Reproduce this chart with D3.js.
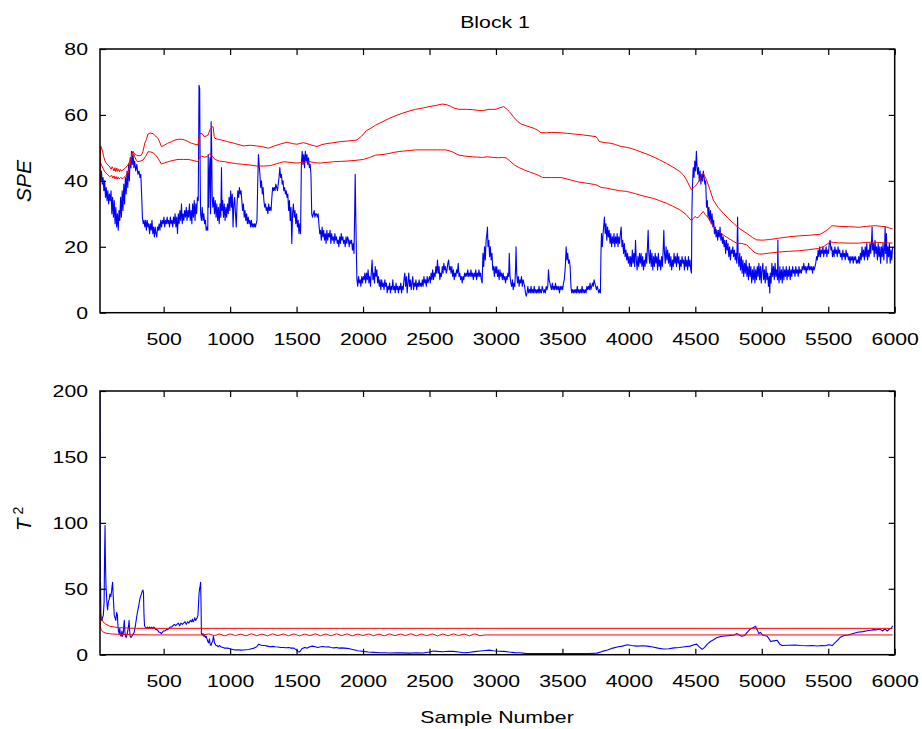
<!DOCTYPE html>
<html>
<head>
<meta charset="utf-8">
<script src="https://cdn.jsdelivr.net/npm/d3@7"></script>
<style>
body { margin: 0; background: #fff; }
text { font-family: "Liberation Sans", Arial, sans-serif; fill: #000; }
</style>
</head>
<body>
<div id="chart"></div>
<script>
// tick values
var xTicks = [500, 1000, 1500, 2000, 2500, 3000, 3500, 4000, 4500, 5000, 5500, 6000];
var speTicks = [0, 20, 40, 60, 80];
var t2Ticks = [0, 50, 100, 150, 200];

// SPE statistic (sample, value)
var speStat = [[21,42],[26,40],[32,43],[38,39],[44,41],[50,37],[56,40],[62,35],[68,38],[74,34],[80,37],[86,33],[92,36],[98,34],[104,37],[110,30],[116,35],[122,29],[128,34],[134,27],[140,32],[146,26],[152,30],[158,25],[164,31],[170,28],[176,35],[182,29],[188,37],[194,31],[200,39],[206,33],[212,41],[218,36],[224,43],[230,38],[236,45],[242,40],[248,47],[254,44],[258,49],[264,45],[270,48],[276,44],[282,46],[290,43],[298,45],[306,42],[314,43],[322,41],[328,42],[334,36],[340,29],[346,27],[352,28],[358,26],[364,28],[370,25],[376,28],[382,26],[388,27],[394,24],[400,27],[406,25],[412,28],[418,24],[424,26],[430,23],[436,26],[442,24],[448,23],[454,26],[460,25],[466,27],[472,25],[478,28],[484,26],[490,28],[496,27],[502,29],[508,26],[514,28],[520,27],[526,29],[532,27],[538,28],[544,26],[550,29],[556,27],[562,28],[568,26],[574,29],[580,27],[586,30],[592,26],[598,29],[604,24],[610,30],[616,27],[622,31],[628,28],[634,33],[640,27],[646,30],[652,28],[658,31],[664,29],[670,32],[676,28],[682,31],[688,29],[694,33],[700,28],[706,31],[712,27],[718,33],[724,29],[730,34],[736,28],[742,33],[748,30],[754,35],[760,34],[763,50],[766,69],[771,68],[775,40],[778,30],[784,28],[790,32],[796,28],[802,30],[808,27],[814,28],[820,25],[826,26],[832,25],[835,48],[839,32],[845,44],[849,47],[853,30],[857,58],[861,50],[865,35],[870,32],[876,35],[882,30],[888,34],[894,29],[900,33],[906,28],[912,32],[918,27],[924,33],[930,29],[935,44],[939,31],[944,34],[950,29],[956,33],[962,28],[968,32],[974,29],[980,33],[986,30],[992,35],[998,31],[1004,37],[1010,32],[1016,36],[1022,26],[1028,33],
[1034,35],[1040,30],[1046,26],[1052,33],[1058,37],[1064,35],[1070,38],[1076,36],[1082,37],[1088,34],[1094,31],[1100,33],[1106,29],[1112,31],[1118,28],[1124,30],[1130,27],[1136,29],[1142,27],[1148,28],[1154,26],[1160,28],[1166,26],[1172,27],[1178,26],[1184,27],[1190,26],[1196,27],[1202,28],[1208,40],[1213,48],[1218,45],[1224,42],[1230,38],[1236,40],[1242,36],[1248,38],[1254,34],[1260,32],[1266,33],[1272,31],[1278,32],[1284,30],[1290,33],[1296,31],[1302,32],[1308,31],[1314,35],[1320,38],[1326,37],[1332,38],[1338,37],[1344,39],[1350,38],[1356,37],[1362,39],[1368,41],[1374,44],[1380,41],[1386,42],[1392,39],[1398,40],[1404,37],[1410,38],[1416,36],[1422,37],[1428,35],[1434,36],[1440,31],[1446,34],[1452,28],[1458,32],[1464,21],[1470,30],[1476,33],[1482,29],[1488,31],[1494,27],[1500,30],[1506,26],[1512,28],[1518,24],[1524,27],[1530,24],[1536,45],[1542,49],[1548,45],[1554,48],[1560,44],[1566,49],[1572,46],[1578,48],[1584,45],[1590,47],[1596,44],[1602,45],[1608,42],[1614,30],[1620,29],[1626,30],[1632,31],[1638,29],[1644,30],[1650,30],[1656,29],[1662,30],[1668,27],[1674,24],[1680,25],[1686,22],[1692,26],[1698,23],[1704,25],[1710,22],[1716,24],[1722,21],[1728,25],[1734,22],[1740,24],[1746,23],[1752,25],[1758,21],[1764,24],[1770,22],[1776,23],[1782,21],[1788,24],[1794,22],[1800,23],[1806,21],[1812,22],[1818,20],[1824,23],[1830,21],[1836,24],[1842,22],[1848,23],[1854,21],[1860,22],[1866,20],[1872,23],[1878,21],[1884,23],[1890,22],[1896,20],[1902,22],[1908,21],[1914,22],[1920,19],[1926,21],[1932,18],[1937,30],[1941,42],[1945,30],[1950,18],[1954,10],[1960,8],[1966,11],[1972,9],[1978,10],[1984,8],[1990,11],[1996,9],[2002,11],[2008,10],[2014,12],[2020,9],
[2026,12],[2032,10],[2038,13],[2044,9],[2050,11],[2056,8],[2062,12],[2068,16],[2074,10],[2080,12],[2086,9],[2092,14],[2098,11],[2104,13],[2110,9],[2116,11],[2122,8],[2128,10],[2134,7],[2140,10],[2146,8],[2152,9],[2158,7],[2164,10],[2170,8],[2176,9],[2182,6],[2188,8],[2194,7],[2200,9],[2206,6],[2212,8],[2218,7],[2224,10],[2230,7],[2236,8],[2242,6],[2248,9],[2254,7],[2260,8],[2266,6],[2272,8],[2278,7],[2284,9],[2290,6],[2296,8],[2302,7],[2308,10],[2314,12],[2320,8],[2326,11],[2332,6],[2338,9],[2344,12],[2350,8],[2356,10],[2362,7],[2368,9],[2374,11],[2380,7],[2386,9],[2392,8],[2398,10],[2404,7],[2410,9],[2416,8],[2422,10],[2428,8],[2434,9],[2440,8],[2446,10],[2452,8],[2458,11],[2464,9],[2470,10],[2476,8],[2482,11],[2488,9],[2494,10],[2500,11],[2506,9],[2512,12],[2518,10],[2524,13],[2530,10],[2536,12],[2542,11],[2548,14],[2554,12],[2560,16],[2566,12],[2572,14],[2578,10],[2584,12],[2590,11],[2596,14],[2602,12],[2608,15],[2614,13],[2620,14],[2626,12],[2632,13],[2638,15],[2644,16],[2650,13],[2656,14],[2662,12],[2668,14],[2674,11],[2680,13],[2686,10],[2692,12],[2698,11],[2704,13],[2710,12],[2716,15],[2722,11],[2728,12],[2734,10],[2740,11],[2746,9],[2752,11],[2758,10],[2764,12],[2770,11],[2776,12],[2782,11],[2788,13],[2794,11],[2800,12],[2806,11],[2812,13],[2818,11],[2824,12],[2830,10],[2836,12],[2842,11],[2848,13],[2854,10],[2860,12],[2866,11],[2872,13],[2878,11],[2884,12],[2890,10],[2896,9],[2902,18],[2908,14],[2914,20],[2920,16],[2926,22],[2932,24],[2936,26],[2940,20],[2946,22],[2952,17],[2958,20],[2964,16],[2970,18],[2976,13],[2982,14],[2988,11],[2994,14],[3000,12],[3006,14],[3012,11],[3018,13],
[3024,10],[3030,13],[3036,11],[3042,12],[3048,10],[3054,12],[3060,10],[3066,11],[3072,9],[3078,11],[3084,10],[3090,12],[3096,11],[3100,18],[3106,11],[3112,9],[3118,8],[3124,10],[3130,7],[3136,9],[3142,8],[3148,14],[3151,20],[3156,12],[3162,9],[3168,11],[3174,8],[3180,10],[3186,9],[3192,11],[3198,8],[3204,10],[3210,9],[3216,8],[3222,6],[3228,5],[3234,6],[3240,8],[3246,6],[3252,7],[3258,6],[3264,8],[3270,6],[3276,7],[3282,6],[3288,8],[3294,6],[3300,7],[3306,6],[3312,7],[3318,6],[3324,8],[3330,6],[3336,7],[3342,6],[3348,8],[3354,7],[3360,6],[3366,7],[3372,6],[3378,8],[3384,7],[3390,8],[3395,13],[3400,10],[3406,9],[3412,8],[3418,7],[3424,9],[3430,7],[3436,8],[3442,7],[3448,9],[3454,7],[3460,8],[3466,7],[3472,8],[3478,6],[3484,8],[3490,7],[3496,8],[3502,7],[3508,9],[3514,10],[3522,14],[3528,20],[3534,16],[3540,18],[3546,15],[3552,16],[3558,14],[3564,8],[3570,6],[3576,7],[3582,6],[3588,7],[3594,6],[3600,7],[3606,6],[3612,8],[3618,6],[3624,7],[3630,6],[3636,7],[3642,6],[3648,8],[3654,6],[3660,7],[3666,6],[3672,7],[3678,6],[3684,8],[3690,7],[3696,8],[3702,7],[3708,9],[3714,7],[3720,8],[3726,9],[3732,8],[3738,10],[3744,9],[3750,8],[3756,7],[3762,8],[3768,7],[3774,6],[3780,7],[3786,6],[3790,18],[3794,24],[3800,20],[3806,24],[3812,27],[3816,29],[3822,24],[3828,27],[3834,22],[3840,26],[3846,23],[3852,25],[3858,21],[3864,24],[3870,20],[3876,23],[3882,21],[3888,24],[3894,20],[3900,23],[3906,21],[3912,24],[3918,20],[3924,23],[3930,21],[3936,24],[3942,26],[3948,20],[3954,22],[3960,18],[3966,21],[3972,17],[3978,19],[3984,16],[3990,18],[3996,15],[4002,17],[4008,14],
[4014,17],[4020,14],[4026,19],[4032,15],[4038,18],[4044,14],[4050,22],[4056,16],[4062,13],[4068,17],[4074,14],[4080,18],[4086,15],[4092,18],[4098,14],[4104,17],[4110,13],[4116,16],[4122,14],[4128,18],[4134,15],[4140,20],[4145,25],[4150,18],[4156,15],[4162,19],[4168,14],[4174,18],[4180,13],[4186,17],[4192,14],[4198,18],[4204,15],[4210,17],[4216,13],[4222,18],[4228,14],[4234,16],[4240,13],[4246,17],[4252,14],[4258,19],[4263,25],[4268,18],[4274,15],[4280,20],[4286,16],[4292,19],[4298,15],[4304,18],[4310,14],[4316,17],[4322,13],[4328,16],[4334,14],[4340,18],[4346,15],[4352,17],[4358,14],[4364,18],[4370,15],[4376,17],[4382,13],[4388,16],[4394,14],[4400,17],[4406,15],[4412,16],[4418,13],[4424,17],[4430,14],[4436,16],[4442,13],[4448,17],[4454,14],[4460,16],[4466,13],[4471,12],[4474,30],[4478,38],[4484,44],[4490,41],[4496,46],[4502,43],[4508,49],[4512,45],[4518,42],[4524,44],[4530,40],[4536,43],[4542,39],[4548,42],[4554,40],[4560,43],[4566,41],[4572,39],[4578,40],[4584,32],[4590,34],[4596,29],[4602,32],[4608,28],[4614,31],[4620,27],[4626,30],[4632,26],[4638,28],[4644,24],[4650,26],[4656,23],[4662,25],[4668,22],[4674,25],[4680,23],[4686,26],[4692,22],[4698,24],[4704,21],[4710,23],[4716,20],[4722,22],[4728,18],[4734,22],[4740,19],[4746,21],[4752,17],[4758,20],[4764,16],[4770,19],[4776,18],[4782,20],[4788,17],[4794,19],[4800,16],[4806,18],[4812,15],[4818,29],[4822,17],[4828,14],[4834,18],[4840,13],[4846,17],[4852,12],[4858,16],[4864,11],[4870,15],[4876,12],[4882,16],[4888,11],[4894,14],[4900,10],[4906,15],[4912,11],[4918,14],[4924,9],[4930,13],[4936,10],[4942,14],[4948,9],[4954,13],[4960,10],[4966,14],[4972,11],[4978,15],[4984,10],[4990,14],[4996,9],[5002,13],
[5008,15],[5014,10],[5020,13],[5026,9],[5032,14],[5038,10],[5044,12],[5050,8],[5056,11],[5060,6],[5064,12],[5070,9],[5076,15],[5082,11],[5088,14],[5094,10],[5100,15],[5106,11],[5112,13],[5118,10],[5121,22],[5124,12],[5130,9],[5136,14],[5142,10],[5148,13],[5154,9],[5160,14],[5166,10],[5172,13],[5178,11],[5184,14],[5190,10],[5196,13],[5202,11],[5208,14],[5214,10],[5220,13],[5226,11],[5232,14],[5238,12],[5244,13],[5250,11],[5256,14],[5262,12],[5268,13],[5274,11],[5280,14],[5286,12],[5292,13],[5298,12],[5304,14],[5310,13],[5316,15],[5322,13],[5328,14],[5334,12],[5340,14],[5346,13],[5352,15],[5358,13],[5364,14],[5370,13],[5376,14],[5382,12],[5388,14],[5394,13],[5400,14],[5406,15],[5412,17],[5418,16],[5424,19],[5430,17],[5436,20],[5442,17],[5448,19],[5454,18],[5460,20],[5466,17],[5472,19],[5478,18],[5484,20],[5490,17],[5496,19],[5502,18],[5508,21],[5514,22],[5520,19],[5526,20],[5532,17],[5538,19],[5544,17],[5550,20],[5556,18],[5562,19],[5568,17],[5574,20],[5580,18],[5586,19],[5592,17],[5598,18],[5604,16],[5610,19],[5616,17],[5622,18],[5628,16],[5634,19],[5640,17],[5646,18],[5652,16],[5658,17],[5664,15],[5670,17],[5676,16],[5682,17],[5688,15],[5694,17],[5700,16],[5706,17],[5712,15],[5718,16],[5724,15],[5730,17],[5736,15],[5742,18],[5748,16],[5754,20],[5760,17],[5766,19],[5772,16],[5778,20],[5784,17],[5790,21],[5796,16],[5802,19],[5808,17],[5814,21],[5820,18],[5826,22],[5830,26],[5834,19],[5840,21],[5846,17],[5852,22],[5858,18],[5864,20],[5870,16],[5876,21],[5882,17],[5888,20],[5894,15],[5900,20],[5906,17],[5912,21],[5918,16],[5924,20],[5928,26],[5932,18],[5938,24],[5942,15],[5948,20],[5954,17],[5960,21],[5966,15],[5972,19],[5978,16],[5984,20]];

// SPE control limits
var speUpper = [[21,34],[24,48],[27,50.5],[32,50],[40,49],[48,47.5],[56,46.3],[66,45.5],[81,44.8],[95,44.2],[105,43.5],[112,44.3],[119,43.8],[126,43],[133,44],[140,42.8],[147,43.9],[154,42.9],[161,43.6],[168,42.8],[175,43.5],[182,43],[194,43.3],[210,43.8],[232,44.8],[250,46.5],[262,48.2],[270,48.8],[280,48.3],[295,47.8],[315,47.6],[332,47.8],[345,49],[358,51.5],[370,52.5],[382,54.2],[400,54.5],[420,54.3],[440,53.6],[458,52.8],[470,51.8],[483,50.4],[495,50.6],[508,50.9],[530,51.4],[558,51.9],[585,52.4],[608,52.6],[635,52.6],[659,52.4],[685,51.9],[709,51.4],[735,51.1],[759,50.9],[764,53],[772,54.4],[790,54.3],[804,53.4],[820,53.6],[834,53.9],[847,55.4],[866,56.4],[872,56.4],[880,53.5],[885,52.9],[910,52.6],[935,52.4],[980,51.9],[1030,51.4],[1100,50.6],[1150,50.8],[1200,50.6],[1238,50.4],[1289,49.9],[1326,50.5],[1380,51.2],[1427,51.7],[1470,51.3],[1502,51.1],[1552,51.6],[1600,51],[1653,50.4],[1690,51],[1728,51.3],[1780,51.6],[1828,51.9],[1890,52.1],[1954,52.4],[1991,53.6],[2024,55.2],[2060,56],[2094,56.9],[2150,58],[2195,58.9],[2240,59.7],[2295,60.5],[2350,61.2],[2396,61.7],[2450,62.1],[2496,62.5],[2550,62.9],[2596,63.3],[2630,63.1],[2660,62.6],[2690,62],[2722,61.7],[2780,61.7],[2822,61.6],[2860,61.4],[2898,61.3],[2948,61.7],[3000,61.7],[3030,62.2],[3058,62.5],[3080,61.8],[3101,61],[3130,59.5],[3164,58],[3190,57.2],[3214,56.9],[3250,56.4],[3289,55.9],[3320,55.2],[3339,54.6],[3380,54.6],[3420,54.7],[3490,54.6],[3540,54.4],[3590,54.2],[3640,54],[3700,53.7],[3753,53.4],[3765,52.8],[3778,51.9],[3820,51.6],[3866,51.4],[3900,51],[3942,50.4],[3980,50.2],[4012,49.9],[4050,49.4],[4082,48.9],[4130,48.2],[4183,47.3],[4230,46.4],[4283,45.3],[4330,44.2],[4384,42.8],[4410,41.8],[4434,40.3],[4455,38.5],[4471,37.3],[4490,38],[4509,38.8],[4530,40.2],[4550,41.8],[4559,42.3],[4570,41.5],[4584,40.3],[4610,37.3],[4635,34.2],[4670,32],[4710,30.2],[4750,28.5],[4785,27.2],[4830,25.6],[4886,24.1],[4930,22.8],[4961,22.1],[5006,22],[5060,22.2],[5126,22.6],[5200,23],[5277,23.3],[5360,23.5],[5440,23.8],[5490,25],[5528,26.4],[5580,26.2],[5654,26.1],[5700,26],[5729,25.9],[5790,26.2],[5854,26.4],[5900,26.2],[5930,26.1],[5960,25.7],[5984,25.4]];

var speLower = [[21,44],[26,45.5],[31,44.8],[44,43.8],[56,42.8],[75,42],[94,41.3],[110,41.6],[118,40.8],[126,41.5],[134,40.6],[142,41.3],[150,40.5],[157,41.2],[165,40.6],[175,41],[194,40.7],[212,41.5],[232,42.3],[250,45.5],[262,48.3],[270,49],[282,47.3],[295,46.2],[307,45.8],[325,46],[345,46.3],[365,47.5],[382,48.8],[400,48.8],[420,48.5],[440,47.8],[458,46.8],[483,45.1],[510,45.5],[533,45.8],[570,46.2],[608,46.5],[650,46.5],[684,46.5],[720,46.2],[759,45.8],[768,47],[784,47.5],[809,47.2],[830,47.4],[847,48.3],[860,47.8],[872,47.2],[885,46.5],[920,46],[960,45.8],[1000,45.5],[1050,45.2],[1100,45],[1150,44.8],[1200,44.5],[1250,44.5],[1301,44.6],[1350,45.2],[1402,45.8],[1450,45.6],[1502,45.4],[1550,45.6],[1602,45.8],[1640,45.5],[1678,45.4],[1730,45.6],[1778,45.8],[1830,45.9],[1879,46],[1940,46.2],[2004,46.5],[2050,47.1],[2094,47.8],[2150,48],[2195,48.3],[2240,48.7],[2295,49],[2350,49.2],[2396,49.4],[2450,49.4],[2496,49.4],[2560,49.4],[2621,49.4],[2650,49.1],[2672,48.8],[2700,48.2],[2722,47.8],[2770,47.5],[2822,47.3],[2860,47.2],[2898,47.1],[2935,47.3],[2980,47.1],[3018,47],[3050,47.1],[3076,47],[3100,46.2],[3139,44.8],[3175,44],[3214,43.3],[3260,42.6],[3314,41.8],[3352,41],[3420,41],[3490,41],[3550,40.4],[3615,39.7],[3680,39.3],[3741,38.9],[3760,38.7],[3791,38],[3830,37.8],[3866,37.5],[3930,37],[3982,36.8],[4012,36.5],[4050,36.1],[4082,35.7],[4130,35.2],[4183,34.7],[4230,34],[4283,33.2],[4330,32.3],[4384,31.2],[4430,29.8],[4471,27.9],[4485,28.6],[4497,29.2],[4510,28.8],[4522,28.9],[4540,29.8],[4559,30.7],[4575,29.8],[4597,28.8],[4615,27.5],[4635,26.1],[4670,24.8],[4710,23.6],[4760,22.3],[4810,21.1],[4850,21],[4886,20.6],[4920,19.2],[4948,18.2],[4976,17.8],[5006,17.8],[5060,18.1],[5126,18.4],[5200,18.6],[5277,18.8],[5350,19.1],[5428,19.5],[5470,20.2],[5516,21.5],[5540,21.3],[5578,21.2],[5650,21.1],[5729,21.1],[5780,21.3],[5829,21.4],[5880,21.3],[5930,21.2],[5984,21.1]];

// T^2 statistic (sample, value)
var t2Stat = [[21,200],[23,40],[25,55],[28,28],[34,26],[40,28],[46,30],[52,40],[56,80],[59,98],[62,70],[66,52],[70,45],[74,38],[78,34],[84,40],[90,42],[96,46],[102,44],[108,48],[112,52],[116,55],[120,45],[124,38],[128,30],[134,28],[140,26],[146,32],[152,30],[156,22],[160,18],[165,16],[170,20],[175,15],[180,14],[186,18],[190,14],[196,16],[200,22],[204,26],[208,18],[212,14],[218,13],[224,15],[230,18],[236,22],[240,26],[244,18],[248,14],[254,13],[260,14],[266,15],[272,16],[278,17],[284,20],[290,24],[296,28],[302,32],[308,35],[314,38],[320,42],[326,44],[332,46],[338,48],[344,49],[348,47],[352,30],[356,22],[362,21],[370,20],[378,21],[386,20],[394,21],[402,20],[410,21],[418,20],[426,21],[434,20],[442,19],[450,19],[458,18],[466,17],[474,17],[482,16],[490,17],[500,18],[510,18],[520,19],[530,19],[540,20],[550,21],[560,21],[570,22],[580,23],[590,22],[600,23],[610,24],[620,22],[630,24],[640,23],[650,24],[660,25],[670,23],[680,25],[690,24],[700,26],[710,25],[716,27],[722,25],[728,26],[734,28],[740,26],[746,27],[752,28],[758,30],[762,38],[766,46],[770,50],[774,52],[778,55],[781,40],[784,16],[790,15],[796,16],[802,14],[808,15],[814,13],[820,14],[826,12],[832,10],[838,9],[844,12],[850,8],[856,7],[862,9],[868,10],[874,14],[878,12],[882,9],[888,8],[894,7],[900,7],[910,6],[920,7],[930,6],[945,5.5],[960,5],[980,5],[1000,4.5],[1020,4],[1040,3.5],[1060,3.8],[1080,3.5],[1100,3.6],[1120,3.8],[1140,4],[1160,4.5],[1180,5],[1200,6],[1215,8],[1225,7.5],[1240,7],[1260,7],[1280,6.5],[1300,6],[1320,6.3],[1340,6],[1360,5.8],[1380,5.5],[1400,5.5],[1420,5.3],[1440,5.5],[1460,5],[1480,5],[1500,3.5],[1510,2.5],[1520,2],[1530,3],[1540,4.5],[1560,5.5],[1580,5],[1600,6],[1620,6.5],[1640,6],[1660,5.5],[1680,6],[1700,6.2],[1720,5.8],[1740,6],[1760,5.5],[1780,5.2],[1800,5.5],[1820,5],[1840,5.2],[1860,5],[1880,4.8],[1900,4.5],[1920,4],[1940,3.5],[1960,3],[1980,2.8],[2000,2.5],[2040,2],[2080,1.8],[2120,1.5],[2160,1.5],[2200,1.3],[2250,1.5],[2300,1.4],[2350,1.2],[2400,1.5],[2450,1.3],[2500,2],[2530,2.8],[2560,2.5],[2600,2.2],[2640,2.6],[2680,2.5],[2720,2],[2760,1.5],[2800,1.8],[2840,2.3],[2880,2.8],[2920,3.2],[2950,3.5],[2980,3],[3020,2.6],[3060,2.5],[3100,2],[3140,1.6],[3180,1.5],[3220,1],[3260,0.9],[3300,0.8],[3400,0.8],[3500,0.8],[3600,0.8],[3700,0.9],[3760,1.2],[3800,2.5],[3840,3.5],[3880,5],[3920,6],[3950,6.5],[3990,7.5],[4020,7],[4060,6.5],[4100,6.8],[4140,6.5],[4180,5.8],[4220,5],[4260,4.3],[4300,4.5],[4340,5.2],[4380,5.5],[4420,6],[4460,6.5],[4490,7.5],[4510,8],[4530,6],[4552,4],[4570,5.5],[4590,8],[4614,10],[4640,11.5],[4660,12.8],[4690,13.8],[4720,14.2],[4750,14.5],[4790,15],[4815,16],[4830,15],[4850,14],[4870,14.5],[4890,17],[4915,19.6],[4935,20.5],[4953,21.5],[4965,19],[4978,16],[4990,17],[5005,15],[5020,14.5],[5041,14],[5055,12],[5066,10],[5090,10.5],[5116,11],[5135,8],[5154,7],[5200,7.2],[5250,7.3],[5292,7],[5340,6.8],[5380,7],[5418,6.6],[5450,7],[5480,6.8],[5500,7.5],[5518,7.3],[5530,6.8],[5556,9.5],[5575,11.5],[5594,13.5],[5620,14.5],[5650,15],[5694,16.2],[5720,17],[5760,17.5],[5794,18.2],[5820,18.5],[5840,19],[5860,18.8],[5880,19.5],[5895,19],[5910,18],[5925,19.5],[5945,18],[5960,19.5],[5975,20],[5984,22]];

// T^2 control limits
var t2Upper = [[21,34],[26,31],[35,27],[44,25],[60,23.5],[94,21.6],[130,21],[150,20.6],[169,20.5],[200,20.4],[230,20.2],[297,20],[5984,20]];
var t2LowerHead = [[21,31],[25,21],[30,19],[40,17.5],[60,16.5],[100,15.8],[150,15.5],[250,15.2],[400,15],[780,15]];
var t2LowerWiggleStart = 800, t2LowerWiggleStep = 40;
var t2LowerWiggle = [15.0,15.8,14.4,15.7,14.3,15.8,14.5,15.6,14.3,15.9,14.4,15.7,14.3,15.8,14.5,15.7,14.4,15.8,14.3,15.6,14.5,15.8,14.4,15.7,14.3,15.9,14.4,15.8,14.3,15.7,14.5,15.8,14.4,15.6,14.3,15.8,14.4,15.7,14.5,15.9,14.3,15.7,14.4,15.8,14.3,15.7,14.4,15.8,14.5,15.7,14.3,15.8,14.4,15.0];
var t2LowerTail = [[2960,15],[5984,15]];

var t2Lower = t2LowerHead
  .concat(t2LowerWiggle.map(function(v, i) { return [t2LowerWiggleStart + i * t2LowerWiggleStep, v]; }))
  .concat(t2LowerTail);

// layout
var width = 922, height = 729;
var left = 100, right = 894.7;
var stretch = 1.25; // the original text is wider than it is tall
var tickLen = 6;

var svg = d3.select("#chart")
  .append("svg")
  .attr("width", width)
  .attr("height", height);

svg.append("rect").attr("width", width).attr("height", height).attr("fill", "#fff");

var xScale = d3.scaleLinear().domain([21, 6000]).range([left, right]);

var panels = [
  { top: 49, bottom: 312.7, yMax: 80, ticks: speTicks, stat: speStat, limits: [speUpper, speLower] },
  { top: 391, bottom: 654.7, yMax: 200, ticks: t2Ticks, stat: t2Stat, limits: [t2Upper, t2Lower] }
];

panels.forEach(function(p, k) {
  var yScale = d3.scaleLinear().domain([0, p.yMax]).range([p.bottom, p.top]);
  var g = svg.append("g");

  g.append("clipPath").attr("id", "clip" + k)
    .append("rect")
    .attr("x", left).attr("y", p.top)
    .attr("width", right - left).attr("height", p.bottom - p.top);

  var line = d3.line()
    .x(function(d) { return xScale(d[0]); })
    .y(function(d) { return yScale(d[1]); });

  var plot = g.append("g").attr("clip-path", "url(#clip" + k + ")");

  plot.append("path")
    .datum(p.stat)
    .attr("fill", "none")
    .attr("stroke", "#0000ff")
    .attr("stroke-width", 1.1)
    .attr("stroke-linejoin", "round")
    .attr("d", line);

  p.limits.forEach(function(lim) {
    plot.append("path")
      .datum(lim)
      .attr("fill", "none")
      .attr("stroke", "#ff0000")
      .attr("stroke-width", 1)
      .attr("d", line);
  });

  // axes, ticks pointing inward
  var fmt = d3.format("d");
  var xAxis = d3.axisBottom(xScale).tickValues(xTicks).tickFormat(fmt).tickSizeInner(-tickLen).tickSizeOuter(0).tickPadding(20);
  var xAxisTop = d3.axisTop(xScale).tickValues(xTicks).tickSizeInner(-tickLen).tickSizeOuter(0).tickFormat("");
  var yAxis = d3.axisLeft(yScale).tickValues(p.ticks).tickFormat(fmt).tickSizeInner(-tickLen).tickSizeOuter(0).tickPadding(12 / stretch);
  var yAxisRight = d3.axisRight(yScale).tickValues(p.ticks).tickSizeInner(-tickLen).tickSizeOuter(0).tickFormat("");

  var axes = [
    g.append("g").attr("transform", "translate(0," + p.bottom + ")").call(xAxis),
    g.append("g").attr("transform", "translate(0," + p.top + ")").call(xAxisTop),
    g.append("g").attr("transform", "translate(" + left + ",0)").call(yAxis),
    g.append("g").attr("transform", "translate(" + right + ",0)").call(yAxisRight)
  ];

  axes.forEach(function(a) {
    a.select(".domain").remove();
    a.selectAll(".tick line").attr("stroke", "#000").attr("stroke-width", 1.2);
    a.selectAll(".tick text")
      .attr("font-size", 17)
      .attr("font-family", "Liberation Sans, Arial, sans-serif")
      .attr("fill", "#000")
      .attr("transform", "scale(" + stretch + ",1)");
  });

  // frame
  g.append("rect")
    .attr("x", left).attr("y", p.top)
    .attr("width", right - left).attr("height", p.bottom - p.top)
    .attr("fill", "none")
    .attr("stroke", "#000")
    .attr("stroke-width", 1.5);
});

// title
svg.append("text")
  .attr("transform", "translate(495,28) scale(" + stretch + ",1)")
  .attr("text-anchor", "middle")
  .attr("font-size", 17)
  .text("Block 1");

// x label
svg.append("text")
  .attr("transform", "translate(497,723) scale(" + stretch + ",1)")
  .attr("text-anchor", "middle")
  .attr("font-size", 17)
  .text("Sample Number");

// y labels
svg.append("text")
  .attr("transform", "translate(31,181) rotate(-90)")
  .attr("text-anchor", "middle")
  .attr("font-size", 21)
  .attr("font-style", "italic")
  .text("SPE");

var t2Label = svg.append("text")
  .attr("transform", "translate(31,519) rotate(-90)")
  .attr("text-anchor", "middle")
  .attr("font-size", 21);
t2Label.append("tspan").attr("font-style", "italic").text("T");
t2Label.append("tspan").attr("dx", 4).attr("dy", -8).attr("font-size", 14).text("2");
</script>
</body>
</html>
